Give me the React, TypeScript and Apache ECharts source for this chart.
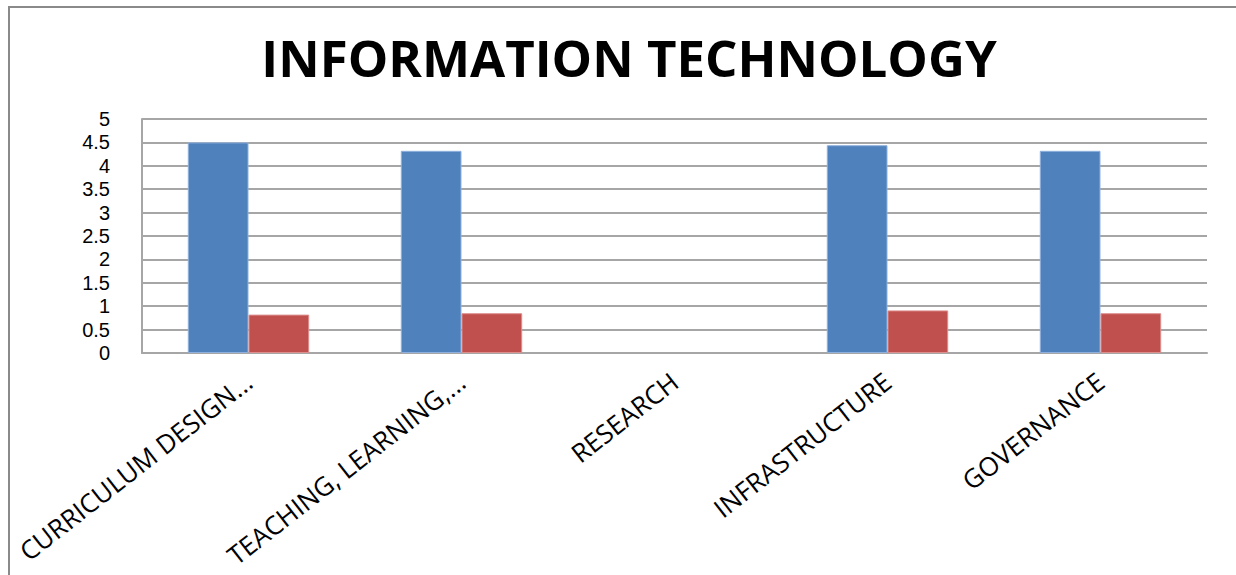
import React, { useEffect, useRef } from "react";
import * as echarts from "echarts";

const categories = [
  "CURRICULUM DESIGN...",
  "TEACHING, LEARNING,...",
  "RESEARCH",
  "INFRASTRUCTURE",
  "GOVERNANCE",
];
const seriesA = [4.5, 4.32, null, 4.44, 4.32];
const seriesB = [0.82, 0.85, null, 0.91, 0.85];
const yTicks = { min: 0, max: 5, interval: 0.5 };

export default function App() {
  const ref = useRef<HTMLDivElement>(null);
  useEffect(() => {
    if (!ref.current) return;
    const chart = echarts.init(ref.current, null, { renderer: "svg" });
    chart.setOption({
      animation: false,
      backgroundColor: "#ffffff",
      title: {
        text: "INFORMATION TECHNOLOGY",
        left: 624,
        textAlign: "center",
        top: 26,
        textStyle: {
          fontFamily: "Open Sans",
          fontWeight: "bold",
          fontSize: 51,
          color: "#000",
        },
      },
      graphic: [
        {
          type: "rect",
          shape: { x: 9, y: 7, width: 1300, height: 700 },
          style: { fill: "none", stroke: "#8a8a8a", lineWidth: 2 },
          silent: true,
        },
      ],
      grid: { left: 142, right: 29, top: 119, bottom: 222, containLabel: false },
      xAxis: {
        type: "category",
        data: categories,
        axisLine: { show: true, lineStyle: { color: "#a6a6a6", width: 2 } },
        axisTick: { show: false },
        axisLabel: {
          rotate: 38,
          interval: 0,
          margin: 25,
          fontFamily: "Open Sans",
          fontSize: 26,
          color: "#000",
        },
      },
      yAxis: {
        type: "value",
        min: yTicks.min,
        max: yTicks.max,
        interval: yTicks.interval,
        axisLine: { show: true, lineStyle: { color: "#a6a6a6", width: 2 } },
        axisTick: { show: false },
        splitLine: { show: true, lineStyle: { color: "#a6a6a6", width: 2 } },
        axisLabel: {
          margin: 32,
          showMinLabel: true,
          showMaxLabel: true,
          fontFamily: "Liberation Sans",
          fontSize: 20,
          lineHeight: 20,
          color: "#000",
          formatter: (v: number) => String(v),
        },
      },
      series: [
        {
          type: "bar",
          data: seriesA,
          barGap: "0%",
          barCategoryGap: "43%",
          itemStyle: { color: "#4F81BD", borderColor: "#8fb0dc", borderWidth: 1 },
        },
        {
          type: "bar",
          data: seriesB,
          barGap: "0%",
          barCategoryGap: "43%",
          itemStyle: { color: "#C0504D", borderColor: "#dc8f8d", borderWidth: 1 },
        },
      ],
    });
    return () => chart.dispose();
  }, []);
  return (
    <div
      ref={ref}
      style={{ position: "fixed", left: 0, top: 0, width: 1236, height: 575 }}
    />
  );
}
